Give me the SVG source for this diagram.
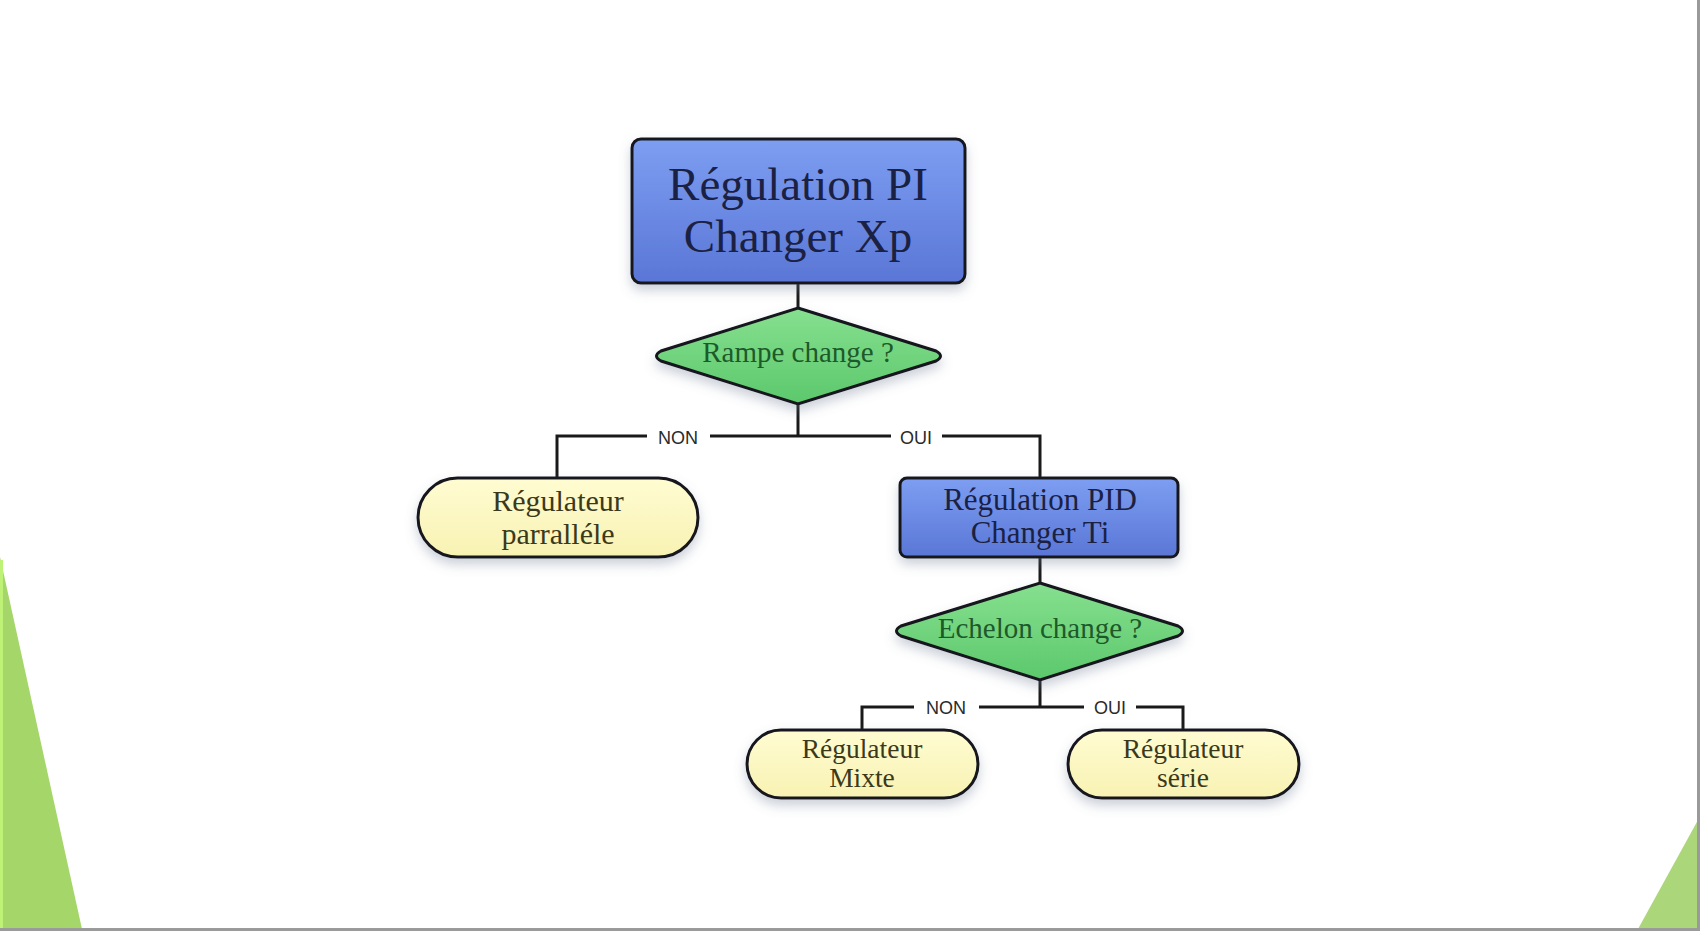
<svg xmlns="http://www.w3.org/2000/svg" width="1700" height="931" viewBox="0 0 1700 931">
<defs>
<linearGradient id="gBlue" x1="0" y1="0" x2="0" y2="1"><stop offset="0" stop-color="#7d9ef2"/><stop offset="1" stop-color="#5a76d6"/></linearGradient>
<linearGradient id="gGreen" x1="0" y1="0" x2="0" y2="1"><stop offset="0" stop-color="#86e08f"/><stop offset="1" stop-color="#5cc86c"/></linearGradient>
<linearGradient id="gYellow" x1="0" y1="0" x2="0" y2="1"><stop offset="0" stop-color="#fffcd2"/><stop offset="1" stop-color="#f8f2b2"/></linearGradient>
<filter id="sh" x="-20%" y="-20%" width="140%" height="160%"><feDropShadow dx="0" dy="6" stdDeviation="6" flood-color="#6a7a90" flood-opacity="0.35"/></filter>
<style>
.box{fill:url(#gBlue);stroke:#15181f;stroke-width:3;filter:url(#sh)}
.dia{fill:url(#gGreen);stroke:#15181f;stroke-width:3;filter:url(#sh)}
.pill{fill:url(#gYellow);stroke:#15181f;stroke-width:3;filter:url(#sh)}
.tb{font-family:"Liberation Serif",serif;fill:#1b2142;text-anchor:middle}
.tg{font-family:"Liberation Serif",serif;fill:#1d5a2a;text-anchor:middle;font-size:29px}
.ty{font-family:"Liberation Serif",serif;fill:#3a391c;text-anchor:middle}
.ln{stroke:#1a1a1a;stroke-width:3;fill:none}
.lbg{fill:#ffffff}
.lt{font-family:"Liberation Sans",Arial,sans-serif;font-size:18px;fill:#2a2a2a;text-anchor:middle}
</style>
</defs>
<rect width="1700" height="931" fill="#ffffff"/>
<polygon points="0,557 82,929 0,929" fill="#a5d66a"/>
<rect x="0" y="560" width="3" height="369" fill="#bdf276"/>
<polygon points="1698,820 1638,929 1698,929" fill="#acd67a"/>
<line x1="0" y1="929.5" x2="1700" y2="929.5" stroke="#9a9a9a" stroke-width="3"/>
<line x1="1698.5" y1="0" x2="1698.5" y2="931" stroke="#9a9a9a" stroke-width="3"/>

<g id="connectors">
<path class="ln" d="M798,283 V308"/>
<path class="ln" d="M798,404 V436"/>
<path class="ln" d="M557,478 V436 H1040 V478"/>
<path class="ln" d="M1040,557 V583"/>
<path class="ln" d="M1040,680 V707"/>
<path class="ln" d="M862,730 V707 H1183 V730"/>
<rect class="lbg" x="647" y="425" width="63" height="24"/>
<text class="lt" x="678" y="444">NON</text>
<rect class="lbg" x="891" y="425" width="51" height="24"/>
<text class="lt" x="916" y="444">OUI</text>
<rect class="lbg" x="914" y="696" width="65" height="24"/>
<text class="lt" x="946" y="714">NON</text>
<rect class="lbg" x="1084" y="696" width="52" height="24"/>
<text class="lt" x="1110" y="714">OUI</text>
</g>

<g id="n1">
<rect class="box" x="632" y="139" width="333" height="144" rx="9"/>
<text class="tb" x="798" y="200" font-size="47">Régulation PI</text>
<text class="tb" x="798" y="252" font-size="47">Changer Xp</text>
</g>

<g id="d1">
<path class="dia" d="M798,308 L936,351 Q945,356 936,361 L798,404 L661,361 Q652,356 661,351 Z"/>
<text class="tg" x="798" y="362">Rampe change ?</text>
</g>

<g id="n2">
<rect class="pill" x="418" y="478" width="280" height="79" rx="39.5"/>
<text class="ty" x="558" y="511" font-size="30">Régulateur</text>
<text class="ty" x="558" y="544" font-size="30">parralléle</text>
</g>

<g id="n3">
<rect class="box" x="900" y="478" width="278" height="79" rx="7"/>
<text class="tb" x="1040" y="510" font-size="31">Régulation PID</text>
<text class="tb" x="1040" y="543" font-size="31">Changer Ti</text>
</g>

<g id="d2">
<path class="dia" d="M1040,583 L1178,626 Q1187,631 1178,636 L1040,680 L901,636 Q892,631 901,626 Z"/>
<text class="tg" x="1040" y="638">Echelon change ?</text>
</g>

<g id="n4">
<rect class="pill" x="747" y="730" width="231" height="68" rx="34"/>
<text class="ty" x="862" y="758" font-size="27.5">Régulateur</text>
<text class="ty" x="862" y="787" font-size="27.5">Mixte</text>
</g>

<g id="n5">
<rect class="pill" x="1068" y="730" width="231" height="68" rx="34"/>
<text class="ty" x="1183" y="758" font-size="27.5">Régulateur</text>
<text class="ty" x="1183" y="787" font-size="27.5">série</text>
</g>
</svg>
